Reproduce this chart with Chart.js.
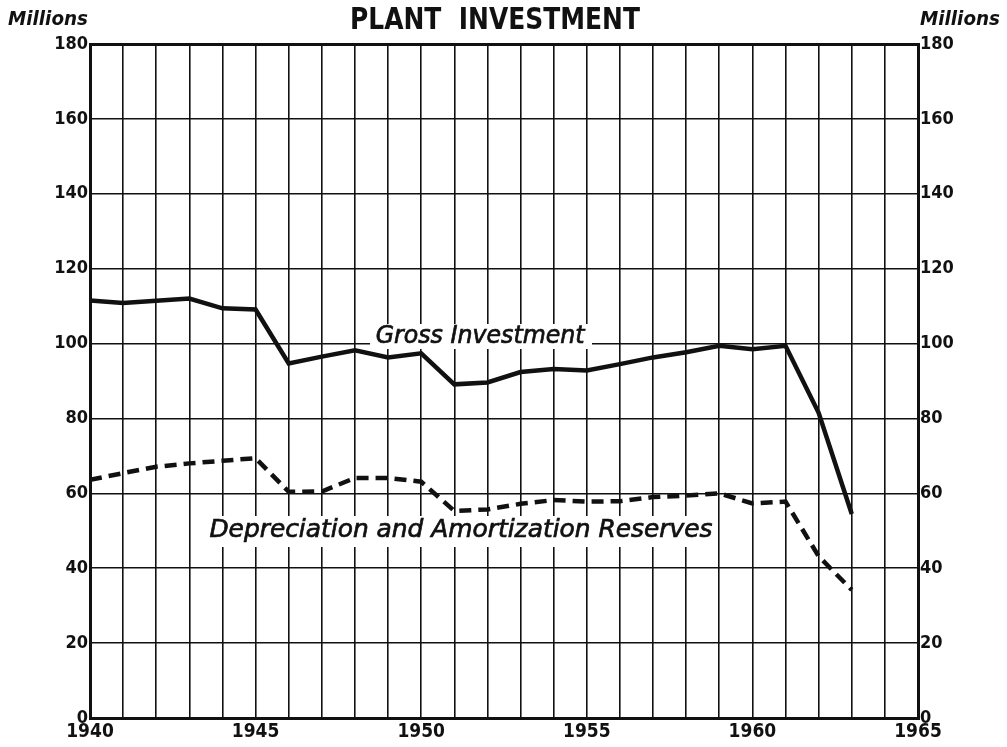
<!DOCTYPE html>
<html>
<head>
<meta charset="utf-8">
<script src="https://cdn.jsdelivr.net/npm/chart.js@4/dist/chart.umd.min.js"></script>
<style>
  html, body { margin: 0; padding: 0; background: #fff; }
  #wrap { width: 1007px; height: 747px; position: relative; }
</style>
</head>
<body>
<div id="wrap"><canvas id="plantChart"></canvas></div>
<script>
// data (millions)
var years = [1940,1941,1942,1943,1944,1945,1946,1947,1948,1949,1950,1951,
             1952,1953,1954,1955,1956,1957,1958,1959,1960,1961,1962,1963];
var grossInvestment = [111.5,110.8,111.4,112.0,109.4,109.1,94.7,96.5,98.2,96.3,97.4,89.1,
                       89.6,92.4,93.2,92.8,94.5,96.3,97.7,99.4,98.5,99.4,81.5,54.5];
var depreciationReserves = [63.6,65.4,67.1,68.0,68.7,69.4,60.4,60.5,64.1,64.1,63.1,55.3,
                            55.7,57.2,58.2,57.8,57.9,59.0,59.4,60.0,57.3,57.8,43.2,34.2];
var xLabelYears = [1940,1945,1950,1955,1960,1965];
var yTickValues = [0,20,40,60,80,100,120,140,160,180];

var tickFont = { family: "'DejaVu Sans Condensed', 'DejaVu Sans', sans-serif", size: 19, weight: 'bold' };

function toPoints(vals) {
    return years.map(function (yr, i) { return { x: yr, y: vals[i] }; });
}

// draw text squeezed/stretched to a given width
function fitText(ctx, text, cx, cy, width, stroke) {
    var w = ctx.measureText(text).width;
    ctx.save();
    ctx.translate(cx, cy);
    ctx.scale(width / w, 1);
    ctx.textAlign = 'center';
    ctx.textBaseline = 'middle';
    ctx.fillText(text, 0, 0);
    if (stroke) {
        ctx.lineWidth = stroke;
        ctx.strokeStyle = ctx.fillStyle;
        ctx.strokeText(text, 0, 0);
    }
    ctx.restore();
}

/** labels written on the plot **/
var seriesLabels = [
    { text: 'Gross Investment', x: 1951.78, y: 101.8, width: 209, box: [370, 592, 324, 349] },
    { text: 'Depreciation and Amortization Reserves', x: 1951.2, y: 49.9, width: 503, box: [205, 716, 516, 547] }
];

var textPlugin = {
    id: 'textPlugin',
    beforeDatasetsDraw: function (chart) {
        var ctx = chart.ctx, xs = chart.scales.x, ys = chart.scales.y;
        ctx.save();
        seriesLabels.forEach(function (l) {
            var px = xs.getPixelForValue(l.x), py = ys.getPixelForValue(l.y);
            ctx.fillStyle = '#fff';
            ctx.fillRect(l.box[0], l.box[2], l.box[1] - l.box[0], l.box[3] - l.box[2]);
            ctx.fillStyle = '#111';
            ctx.font = "italic 24px 'DejaVu Sans', sans-serif";
            fitText(ctx, l.text, px, py, l.width, 0.7);
        });
        ctx.restore();
    },
    afterDraw: function (chart) {
        var ctx = chart.ctx;
        ctx.save();
        ctx.fillStyle = '#111';
        ctx.font = "bold 30px 'DejaVu Sans Condensed', 'DejaVu Sans', sans-serif";
        fitText(ctx, 'PLANT  INVESTMENT', 495, 21, 290);
        ctx.font = "bold italic 20px 'DejaVu Sans Condensed', 'DejaVu Sans', sans-serif";
        fitText(ctx, 'Millions', 48, 20, 80);
        fitText(ctx, 'Millions', 960, 20, 80);
        ctx.restore();
    }
};

var frameWidth = function (c) {
    var v = c.tick ? c.tick.value : null;
    return (v === 0 || v === 180 || v === 1940 || v === 1965) ? 3 : 1.6;
};

var ctx = document.getElementById('plantChart').getContext('2d');
new Chart(ctx, {
    type: 'line',
    data: {
        datasets: [
            {
                label: 'Gross Investment',
                data: toPoints(grossInvestment),
                borderColor: '#111',
                borderWidth: 4.5,
                pointRadius: 0,
                tension: 0
            },
            {
                label: 'Depreciation and Amortization Reserves',
                data: toPoints(depreciationReserves),
                borderColor: '#111',
                borderWidth: 4.5,
                borderDash: [12, 7],
                pointRadius: 0,
                tension: 0
            }
        ]
    },
    options: {
        responsive: true,
        maintainAspectRatio: false,
        animation: false,
        layout: { padding: { top: 44, left: 0, right: 0, bottom: 0 } },
        plugins: { legend: { display: false }, tooltip: { enabled: false } },
        scales: {
            x: {
                type: 'linear',
                min: 1940, max: 1965,
                afterFit: function (s) { s.height = 29; },
                ticks: {
                    stepSize: 1, autoSkip: false, maxRotation: 0, padding: 3,
                    color: '#111', font: tickFont,
                    callback: function (v) { return xLabelYears.indexOf(v) >= 0 ? String(v) : ''; }
                },
                grid: { color: '#111', lineWidth: frameWidth, drawTicks: false },
                border: { color: '#111', width: 3 }
            },
            y: {
                position: 'left',
                min: 0, max: 180,
                afterFit: function (s) { s.width = 90; },
                ticks: {
                    stepSize: 20, padding: 2, color: '#111',
                    font: { family: tickFont.family, size: 18, weight: 'bold' },
                    callback: function (v) { return yTickValues.indexOf(v) >= 0 ? String(v) : ''; }
                },
                grid: { color: '#111', lineWidth: frameWidth, drawTicks: false },
                border: { color: '#111', width: 3 }
            },
            y2: {
                position: 'right',
                min: 0, max: 180,
                afterFit: function (s) { s.width = 89; },
                ticks: {
                    stepSize: 20, padding: 2, color: '#111',
                    font: { family: tickFont.family, size: 18, weight: 'bold' },
                    callback: function (v) { return yTickValues.indexOf(v) >= 0 ? String(v) : ''; }
                },
                grid: { display: false, drawTicks: false },
                border: { color: '#111', width: 3 }
            }
        }
    },
    plugins: [textPlugin]
});
</script>
</body>
</html>
